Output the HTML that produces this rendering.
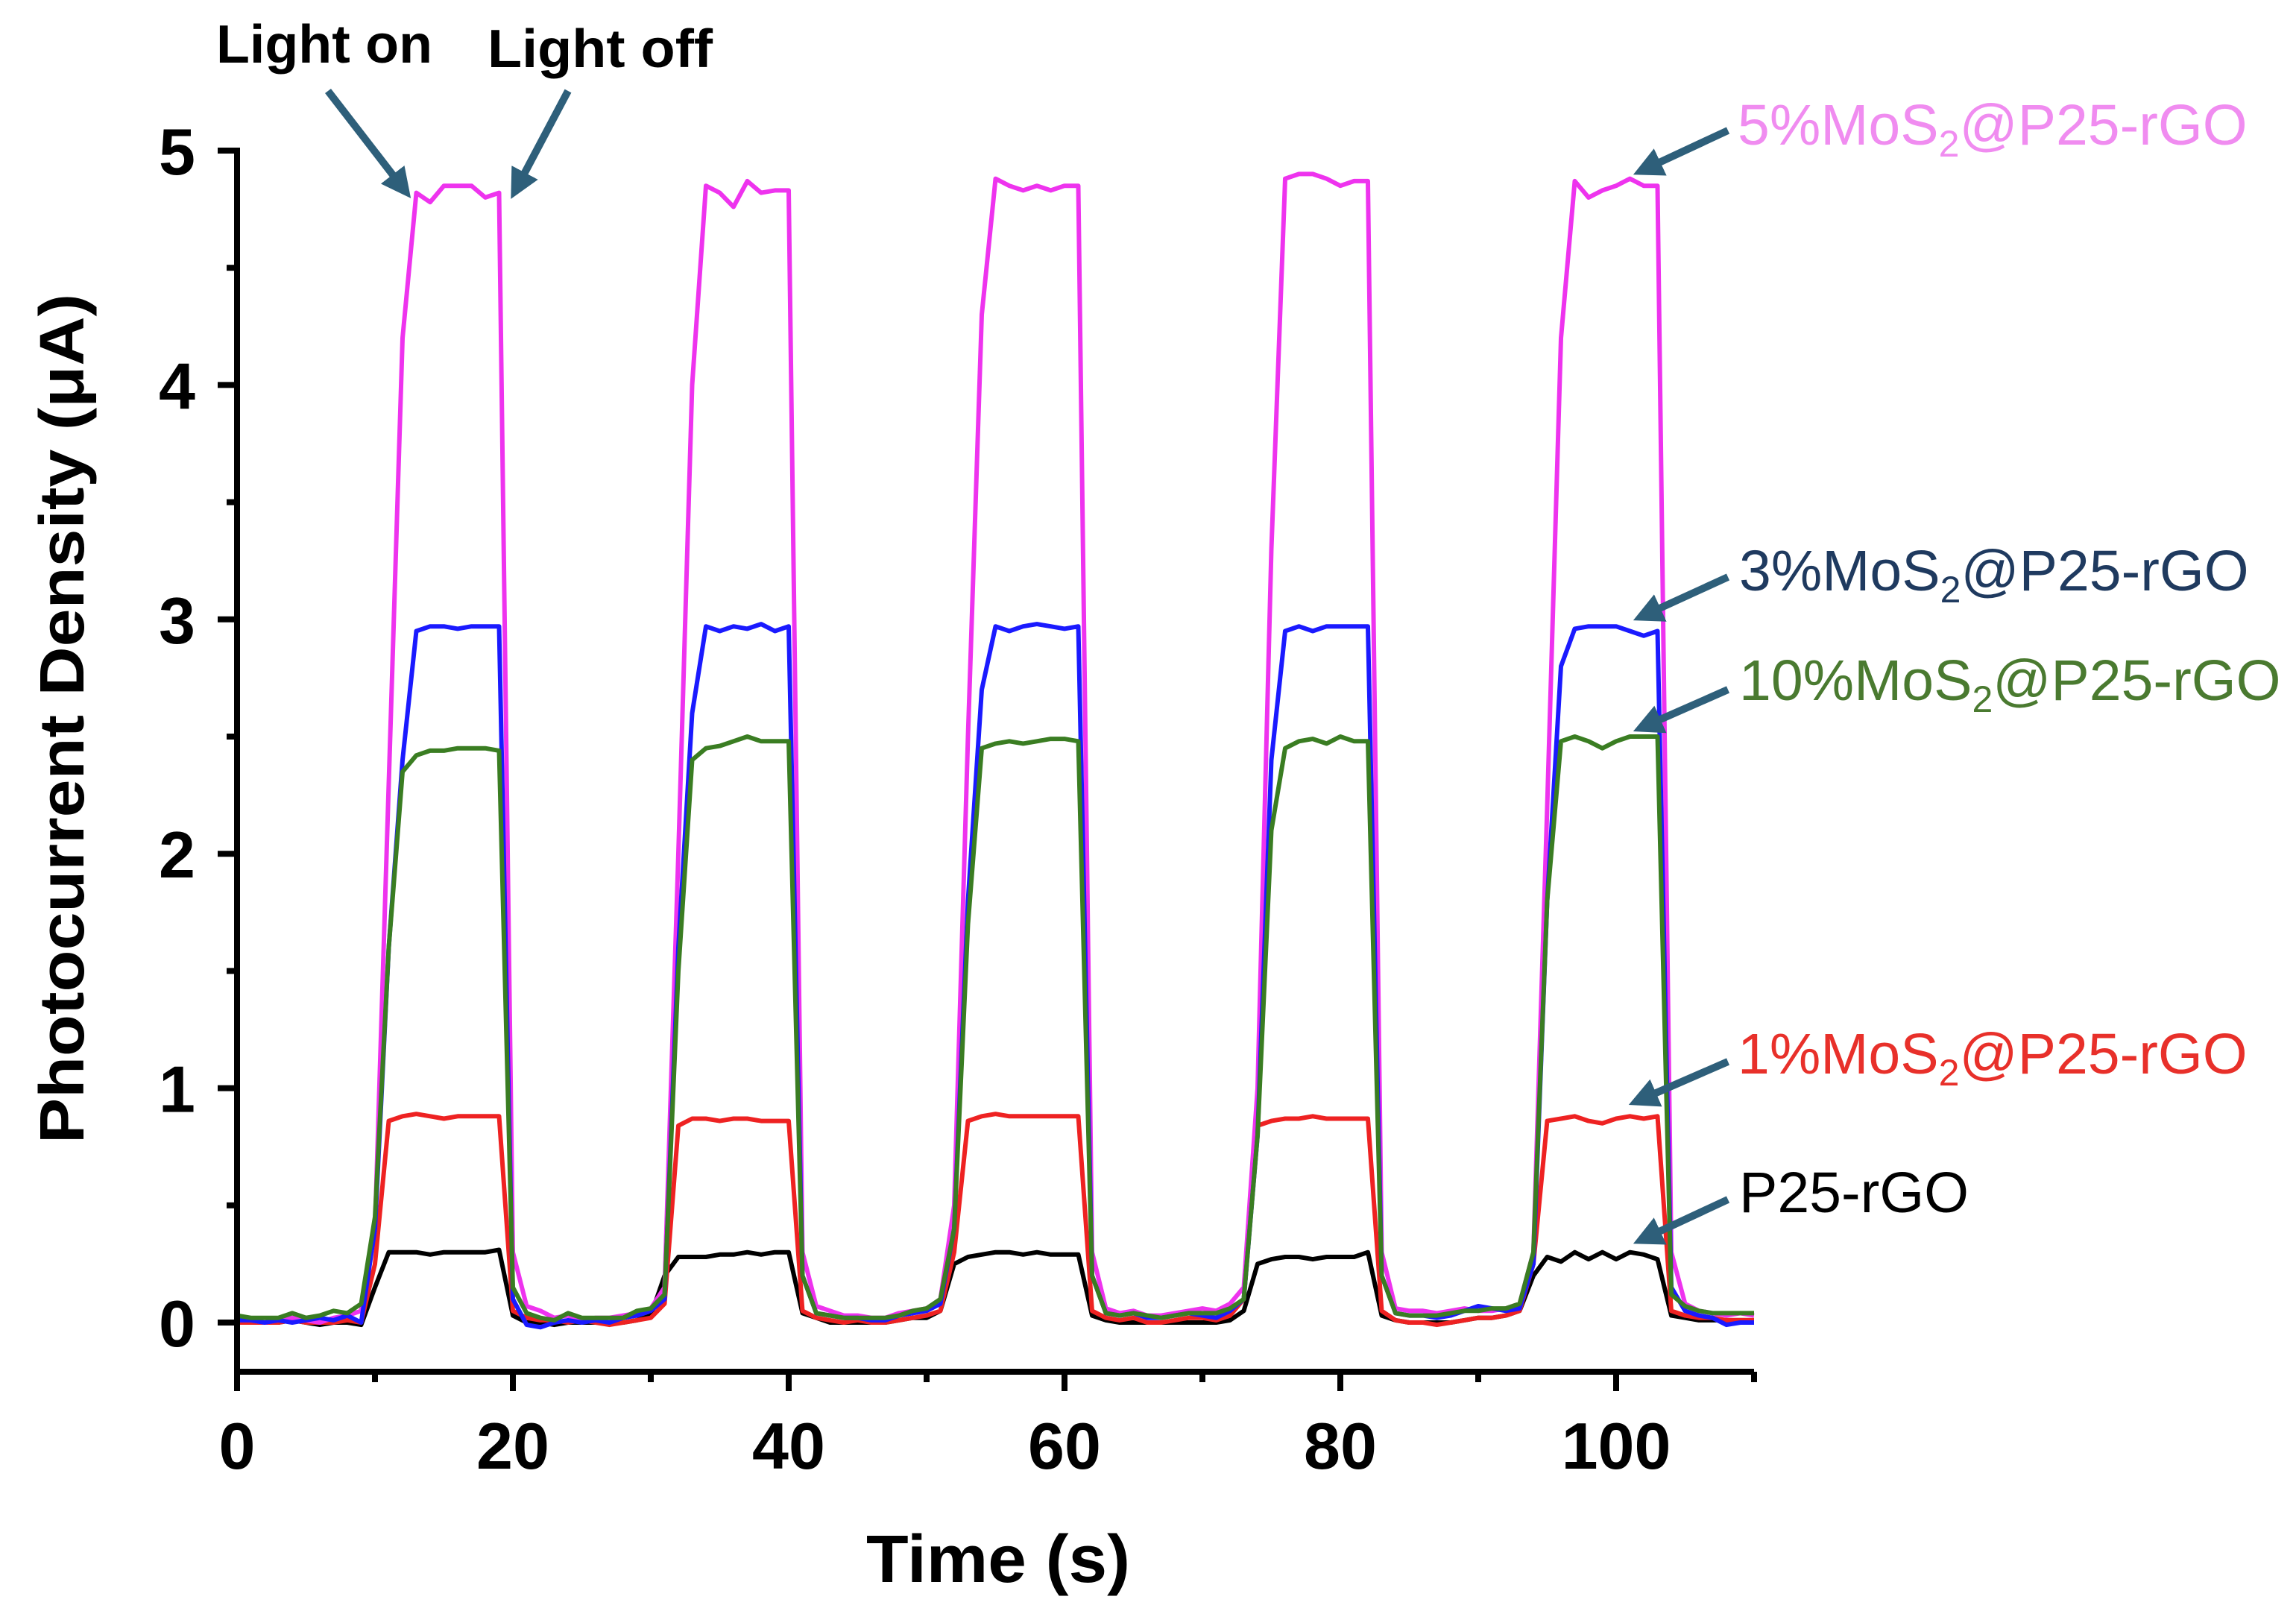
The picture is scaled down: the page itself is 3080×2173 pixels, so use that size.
<!DOCTYPE html>
<html><head><meta charset="utf-8"><style>
html,body{margin:0;padding:0;background:#fff;}
svg{display:block;font-family:"Liberation Sans",Arial,sans-serif;}
</style></head><body>
<svg id="chart" width="3080" height="2173" viewBox="0 0 3080 2173" xmlns="http://www.w3.org/2000/svg">
<defs><marker id="ah" markerWidth="4" markerHeight="4" refX="3" refY="2" orient="auto" markerUnits="strokeWidth"><path d="M0,0 L4,2 L0,4 Z" fill="#2e5f7a"/></marker></defs>
<g id="plot"></g>
<text x="90" y="964" transform="rotate(-90 90 964)" text-anchor="middle" dominant-baseline="middle" font-size="84" font-weight="bold" textLength="1140" lengthAdjust="spacingAndGlyphs">Photocurrent Density (μA)</text>
<text x="1339" y="2122" text-anchor="middle" font-size="90" font-weight="bold" textLength="354" lengthAdjust="spacingAndGlyphs">Time (s)</text>
<text x="290" y="84" font-size="72" font-weight="bold" textLength="290" lengthAdjust="spacingAndGlyphs">Light on</text>
<text x="654" y="90" font-size="72" font-weight="bold" textLength="302" lengthAdjust="spacingAndGlyphs">Light off</text>
<line x1="440" y1="122" x2="545" y2="258" stroke="#2e5f7a" stroke-width="10" marker-end="url(#ah)"/>
<line x1="762" y1="122" x2="690" y2="258" stroke="#2e5f7a" stroke-width="10" marker-end="url(#ah)"/>
<text x="2331" y="194" font-size="77" fill="#f08cf0">5%MoS<tspan font-size="50" dy="16">2</tspan><tspan dy="-16">@P25-rGO</tspan></text>
<text x="2333" y="792" font-size="77" fill="#1f3a5f">3%MoS<tspan font-size="50" dy="16">2</tspan><tspan dy="-16">@P25-rGO</tspan></text>
<text x="2333" y="939" font-size="77" fill="#4a7a30">10%MoS<tspan font-size="50" dy="16">2</tspan><tspan dy="-16">@P25-rGO</tspan></text>
<text x="2331" y="1440" font-size="77" fill="#e8302a">1%MoS<tspan font-size="50" dy="16">2</tspan><tspan dy="-16">@P25-rGO</tspan></text>
<text x="2333" y="1626" font-size="77" fill="#000">P25-rGO</text>
<line x1="2318" y1="175" x2="2200" y2="230" stroke="#2e5f7a" stroke-width="10" marker-end="url(#ah)"/>
<line x1="2318" y1="774" x2="2200" y2="828" stroke="#2e5f7a" stroke-width="10" marker-end="url(#ah)"/>
<line x1="2318" y1="925" x2="2200" y2="977" stroke="#2e5f7a" stroke-width="10" marker-end="url(#ah)"/>
<line x1="2318" y1="1424" x2="2194" y2="1478" stroke="#2e5f7a" stroke-width="10" marker-end="url(#ah)"/>
<line x1="2318" y1="1609" x2="2200" y2="1664" stroke="#2e5f7a" stroke-width="10" marker-end="url(#ah)"/>
</svg>
<script>
const times = Array.from({length:111}, (_, i) => i);
const xTicks = [0,20,40,60,80,100];
const yTicks = [0,1,2,3,4,5];
const seriesNames = ["5%MoS2@P25-rGO","3%MoS2@P25-rGO","1%MoS2@P25-rGO","P25-rGO","10%MoS2@P25-rGO"];
const pink = [0.01,0.01,0.00,0.01,0.02,0.01,0.00,0.02,0.03,0.05,
0.40,2.30,4.20,4.82,4.78,4.85,4.85,4.85,4.80,4.82,
0.30,0.07,0.05,0.02,0.03,0.01,0.02,0.02,0.03,0.04,
0.06,0.15,2.00,4.00,4.85,4.82,4.76,4.87,4.82,4.83,
4.83,0.30,0.07,0.05,0.03,0.03,0.02,0.02,0.04,0.05,
0.06,0.10,0.50,2.50,4.30,4.88,4.85,4.83,4.85,4.83,
4.85,4.85,0.30,0.06,0.04,0.05,0.03,0.03,0.04,0.05,
0.06,0.05,0.08,0.15,1.00,3.30,4.88,4.90,4.90,4.88,
4.85,4.87,4.87,0.30,0.06,0.05,0.05,0.04,0.05,0.06,
0.05,0.05,0.06,0.08,0.30,2.20,4.20,4.87,4.80,4.83,
4.85,4.88,4.85,4.85,0.30,0.08,0.05,0.04,0.03,0.04,0.03];
const blue = [0.01,0.01,0.00,0.01,0.00,0.01,0.02,0.01,0.03,0.00,
0.40,1.60,2.40,2.95,2.97,2.97,2.96,2.97,2.97,2.97,
0.10,-0.01,-0.02,0.00,0.01,0.00,0.01,0.00,0.02,0.03,
0.05,0.10,1.60,2.60,2.97,2.95,2.97,2.96,2.98,2.95,
2.97,0.20,0.04,0.03,0.02,0.02,0.01,0.01,0.03,0.04,
0.05,0.08,0.40,1.80,2.70,2.97,2.95,2.97,2.98,2.97,
2.96,2.97,0.20,0.04,0.03,0.04,0.02,0.02,0.03,0.04,
0.03,0.02,0.05,0.10,0.80,2.40,2.95,2.97,2.95,2.97,
2.97,2.97,2.97,0.20,0.04,0.03,0.03,0.02,0.03,0.05,
0.07,0.06,0.05,0.06,0.25,1.80,2.80,2.96,2.97,2.97,
2.97,2.95,2.93,2.95,0.15,0.05,0.03,0.02,-0.01,0.00,0.00];
const green = [0.03,0.02,0.02,0.02,0.04,0.02,0.03,0.05,0.04,0.08,
0.45,1.60,2.35,2.42,2.44,2.44,2.45,2.45,2.45,2.44,
0.15,0.04,0.02,0.01,0.04,0.02,0.02,0.02,0.02,0.05,
0.06,0.12,1.50,2.40,2.45,2.46,2.48,2.50,2.48,2.48,
2.48,0.20,0.04,0.03,0.02,0.02,0.02,0.02,0.03,0.05,
0.06,0.10,0.40,1.70,2.45,2.47,2.48,2.47,2.48,2.49,
2.49,2.48,0.20,0.04,0.03,0.04,0.03,0.02,0.03,0.04,
0.04,0.04,0.06,0.10,0.80,2.10,2.45,2.48,2.49,2.47,
2.50,2.48,2.48,0.20,0.04,0.03,0.03,0.03,0.04,0.05,
0.05,0.06,0.06,0.08,0.30,1.80,2.48,2.50,2.48,2.45,
2.48,2.50,2.50,2.50,0.12,0.07,0.05,0.04,0.04,0.04,0.04];
const red = [0.00,0.00,0.00,0.00,0.01,0.00,0.00,0.00,0.01,0.00,
0.25,0.86,0.88,0.89,0.88,0.87,0.88,0.88,0.88,0.88,
0.05,0.02,0.01,0.01,0.00,0.01,0.00,-0.01,0.00,0.01,
0.02,0.08,0.84,0.87,0.87,0.86,0.87,0.87,0.86,0.86,
0.86,0.05,0.02,0.01,0.00,0.01,0.00,0.00,0.01,0.02,
0.03,0.05,0.30,0.86,0.88,0.89,0.88,0.88,0.88,0.88,
0.88,0.88,0.05,0.02,0.01,0.02,0.00,0.00,0.01,0.02,
0.02,0.01,0.03,0.10,0.84,0.86,0.87,0.87,0.88,0.87,
0.87,0.87,0.87,0.05,0.01,0.00,0.00,-0.01,0.00,0.01,
0.02,0.02,0.03,0.05,0.25,0.86,0.87,0.88,0.86,0.85,
0.87,0.88,0.87,0.88,0.05,0.03,0.02,0.02,0.01,0.01,0.01];
const black = [0.00,0.00,0.00,0.00,0.01,0.00,-0.01,0.00,0.00,-0.01,
0.15,0.30,0.30,0.30,0.29,0.30,0.30,0.30,0.30,0.31,
0.03,0.00,0.00,-0.01,0.00,0.00,0.00,0.00,0.00,0.01,
0.03,0.20,0.28,0.28,0.28,0.29,0.29,0.30,0.29,0.30,
0.30,0.04,0.02,0.00,0.00,0.00,0.00,0.00,0.01,0.02,
0.02,0.05,0.25,0.28,0.29,0.30,0.30,0.29,0.30,0.29,
0.29,0.29,0.03,0.01,0.00,0.00,0.00,0.00,0.00,0.00,
0.00,0.00,0.01,0.05,0.25,0.27,0.28,0.28,0.27,0.28,
0.28,0.28,0.30,0.03,0.01,0.00,0.00,0.00,0.00,0.01,
0.02,0.02,0.03,0.05,0.20,0.28,0.26,0.30,0.27,0.30,
0.27,0.30,0.29,0.27,0.03,0.02,0.01,0.01,0.01,0.01,0.01];

const X0 = 318, X1 = 2168, Y0 = 1774, Y5 = 202;
function xs(t){ return X0 + (t/100)*(X1-X0); }
function ys(v){ return Y0 - (v/5)*(Y0-Y5); }
const NS = "http://www.w3.org/2000/svg";
const plot = document.getElementById('plot');
function mk(tag, attrs){ const e = document.createElementNS(NS, tag); for (const k in attrs) e.setAttribute(k, attrs[k]); plot.appendChild(e); return e; }

const drawList = [[black,'#000000','series-p25-rgo'],[red,'#ee2222','series-1pct'],[pink,'#ee33ee','series-5pct'],[blue,'#1a1aff','series-3pct'],[green,'#3a7d22','series-10pct']];
drawList.forEach(d => {
  const pts = times.map((t,i) => xs(t).toFixed(1)+','+ys(d[0][i]).toFixed(1)).join(' ');
  const pl = mk('polyline', {points: pts, fill:'none', stroke:d[1], 'stroke-width':6, 'stroke-linejoin':'round'});
  
  
});

const AXY = 1840, XMAXPX = xs(110);
const xa = mk('line', {x1:X0, y1:AXY, x2:XMAXPX, y2:AXY, stroke:'#000', 'stroke-width':8});


const ya = mk('line', {x1:X0, y1:ys(5)-4, x2:X0, y2:AXY+4, stroke:'#000', 'stroke-width':8});


for (let t = 0; t <= 110; t += 10) {
  const major = t % 20 === 0;
  const tk = mk('line', {x1:xs(t), y1:AXY, x2:xs(t), y2:AXY + (major ? 26 : 14), stroke:'#000', 'stroke-width':8});
  
  
}
xTicks.forEach(t => {
  const tx = mk('text', {x:xs(t), y:1970, 'text-anchor':'middle', 'font-size':88, 'font-weight':'bold'});
  tx.textContent = t;
  
  
});
for (let v = 0; v <= 5; v += 0.5) {
  const major = Number.isInteger(v);
  const tk = mk('line', {x1:X0 - (major ? 26 : 14), y1:ys(v), x2:X0, y2:ys(v), stroke:'#000', 'stroke-width':8});
  
  
}
yTicks.forEach(v => {
  const tx = mk('text', {x:262, y:ys(v)+32, 'text-anchor':'end', 'font-size':88, 'font-weight':'bold'});
  tx.textContent = v;
  
  
});
</script>
</body></html>
